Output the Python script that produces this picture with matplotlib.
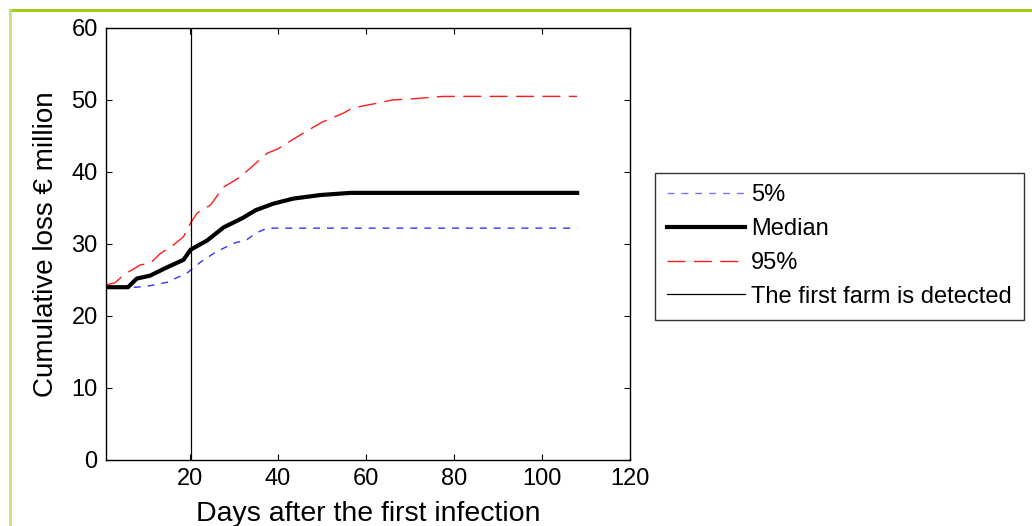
import matplotlib
matplotlib.use('Agg')
import matplotlib.pyplot as plt
from matplotlib.lines import Line2D

plt.rcParams['font.family'] = ['Liberation Sans', 'DejaVu Sans']

# days after first infection and loss values (EUR million)
days_med = [1, 6, 8, 11, 15, 18.6, 20.2, 24, 27.7, 32, 35, 39, 43.5, 49.7, 56.5, 108]
loss_med = [24.0, 24.0, 25.2, 25.6, 26.8, 27.8, 29.2, 30.5, 32.3, 33.6, 34.7, 35.6, 36.3, 36.8, 37.1, 37.1]

days_p5 = [1, 8, 11, 15, 19.5, 22.5, 26, 30, 33, 35, 37.6, 108]
loss_p5 = [24.0, 24.0, 24.2, 24.7, 26.0, 27.5, 28.9, 30.1, 30.6, 31.5, 32.2, 32.2]

days_p95 = [1, 3, 4.3, 5.8, 8.8, 11, 13.4, 16.4, 18.6, 20.2, 21.7, 24.7, 27.7, 31.5, 35,
            37.6, 40, 45, 50, 55, 57, 63, 66, 71.5, 77.5, 108]
loss_p95 = [24.3, 24.6, 25.3, 26.0, 27.1, 27.3, 28.7, 29.9, 31.0, 32.9, 34.3, 35.4, 37.9,
            39.3, 41.2, 42.6, 43.2, 45.1, 46.9, 48.2, 48.9, 49.6, 50.0, 50.2, 50.5, 50.5]

detect_day = 20.2
labels = ['5%', 'Median', '95%', 'The first farm is detected']

fig = plt.figure(figsize=(10.32, 5.26), dpi=100)
ax = fig.add_axes([0.1027, 0.1255, 0.5078, 0.8213])

ax.plot(days_p5, loss_p5, color='#3333ff', lw=1.0, dashes=(5, 5))
ax.plot(days_med, loss_med, color='black', lw=3.0)
ax.plot(days_p95, loss_p95, color='#ff1a1a', lw=1.0, dashes=(13, 6))
ax.axvline(detect_day, color='black', lw=0.9)

ax.set_xlim(1, 120)
ax.set_ylim(0, 60)
ax.set_xticks([20, 40, 60, 80, 100, 120])
ax.set_yticks([0, 10, 20, 30, 40, 50, 60])
ax.tick_params(direction='in', length=4, width=0.8, top=True, right=True,
               labelsize=17, pad=6)
for s in ax.spines.values():
    s.set_linewidth(1.0)
ax.set_xlabel('Days after the first infection', fontsize=20.5, labelpad=8)
ax.set_ylabel('Cumulative loss € million', fontsize=20, labelpad=9)

handles = [
    Line2D([], [], color='#7777ff', lw=1.0, dashes=(5, 5)),
    Line2D([], [], color='black', lw=3.0),
    Line2D([], [], color='#ff1a1a', lw=1.0, dashes=(13, 6)),
    Line2D([], [], color='black', lw=0.9),
]
leg = fig.legend(handles, labels, loc='upper left', bbox_to_anchor=(0.635, 0.672),
                 fontsize=17, frameon=True, fancybox=False, handlelength=3.3,
                 handletextpad=0.25, labelspacing=0.5, borderpad=0.5, borderaxespad=0)
leg.get_frame().set_edgecolor('black')
leg.get_frame().set_linewidth(1.0)

# green frame lines on top and left
fig.add_artist(Line2D([10 / 1032, 1], [1 - 10 / 526, 1 - 10 / 526],
                      transform=fig.transFigure, color='#99cc00', lw=2))
fig.add_artist(Line2D([10 / 1032, 10 / 1032], [0, 1 - 10 / 526],
                      transform=fig.transFigure, color='#c5e07a', lw=2))

fig.savefig('out.png', dpi=100)
